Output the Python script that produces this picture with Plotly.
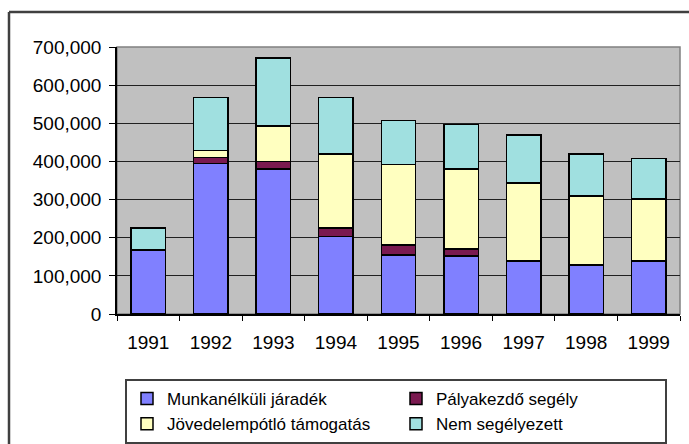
import plotly.graph_objects as go

years = ["1991", "1992", "1993", "1994", "1995", "1996", "1997", "1998", "1999"]
munkanelkuli = [168000, 395000, 380000, 203000, 155000, 152000, 139000, 128000, 139000]
palyakezdo = [0, 15000, 20000, 22000, 26000, 18000, 0, 0, 0]
jovedelempotlo = [0, 19000, 93000, 195000, 211000, 210000, 204000, 182000, 162000]
nem_segelyezett = [58000, 139000, 178000, 148000, 115000, 117000, 126000, 110000, 107000]

names = ["Munkanélküli járadék", "Pályakezdő segély", "Jövedelempótló támogatás", "Nem segélyezett"]
colors = ["#8080FF", "#7A1A50", "#FFFFC0", "#A0E0E0"]
series = [munkanelkuli, palyakezdo, jovedelempotlo, nem_segelyezett]

fig = go.Figure()
for n, c, v in zip(names, colors, series):
    fig.add_trace(go.Bar(x=years, y=v, name=n, marker=dict(color=c, line=dict(color="black", width=1.5))))

W, H = 689, 444
L, T = 117, 47
R = W - 680
B = H - 314
pw, ph = W - L - R, H - T - B

def px2x(p):
    return (p - L) / pw

def py2y(p):
    return (H - B - p) / ph

fig.update_layout(
    width=W, height=H,
    margin=dict(l=L, r=R, t=T, b=B, autoexpand=False),
    barmode="stack", bargap=0.45,
    plot_bgcolor="#C0C0C0", paper_bgcolor="white",
    font=dict(family="Liberation Sans, Arial", size=19, color="black"),
    showlegend=True,
    legend=dict(orientation="h", x=px2x(125), xanchor="left", y=py2y(379), yanchor="top",
                bordercolor="#404040", borderwidth=2, entrywidth=224, entrywidthmode="pixels",
                traceorder="normal", font=dict(size=17), tracegroupgap=0, itemwidth=30),
    xaxis=dict(showgrid=False, ticks="outside", tickson="boundaries", ticklen=5, tickcolor="black",
               showline=True, linecolor="black", linewidth=1.5, ticklabelstandoff=10),
    yaxis=dict(range=[0, 700000], dtick=100000, tickformat=",", showgrid=True, gridcolor="#202020",
               gridwidth=1, ticks="outside", ticklen=6, tickcolor="black", showline=True,
               linecolor="black", linewidth=1.5, zeroline=False, ticklabelstandoff=4),
    shapes=[
        dict(type="rect", xref="paper", yref="paper", x0=0, x1=1, y0=0, y1=1,
             line=dict(color="#808080", width=1.5), layer="below"),
        dict(type="line", xref="paper", yref="paper", x0=px2x(9), x1=px2x(9), y0=py2y(12), y1=py2y(460),
             line=dict(color="#404040", width=2.5)),
        dict(type="line", xref="paper", yref="paper", x0=px2x(9), x1=px2x(700), y0=py2y(12), y1=py2y(12),
             line=dict(color="#404040", width=2.5)),
    ],
)

fig.write_html("out.html", config={"displayModeBar": False},
               post_script="document.body.style.margin='0';document.body.style.overflow='hidden';")
